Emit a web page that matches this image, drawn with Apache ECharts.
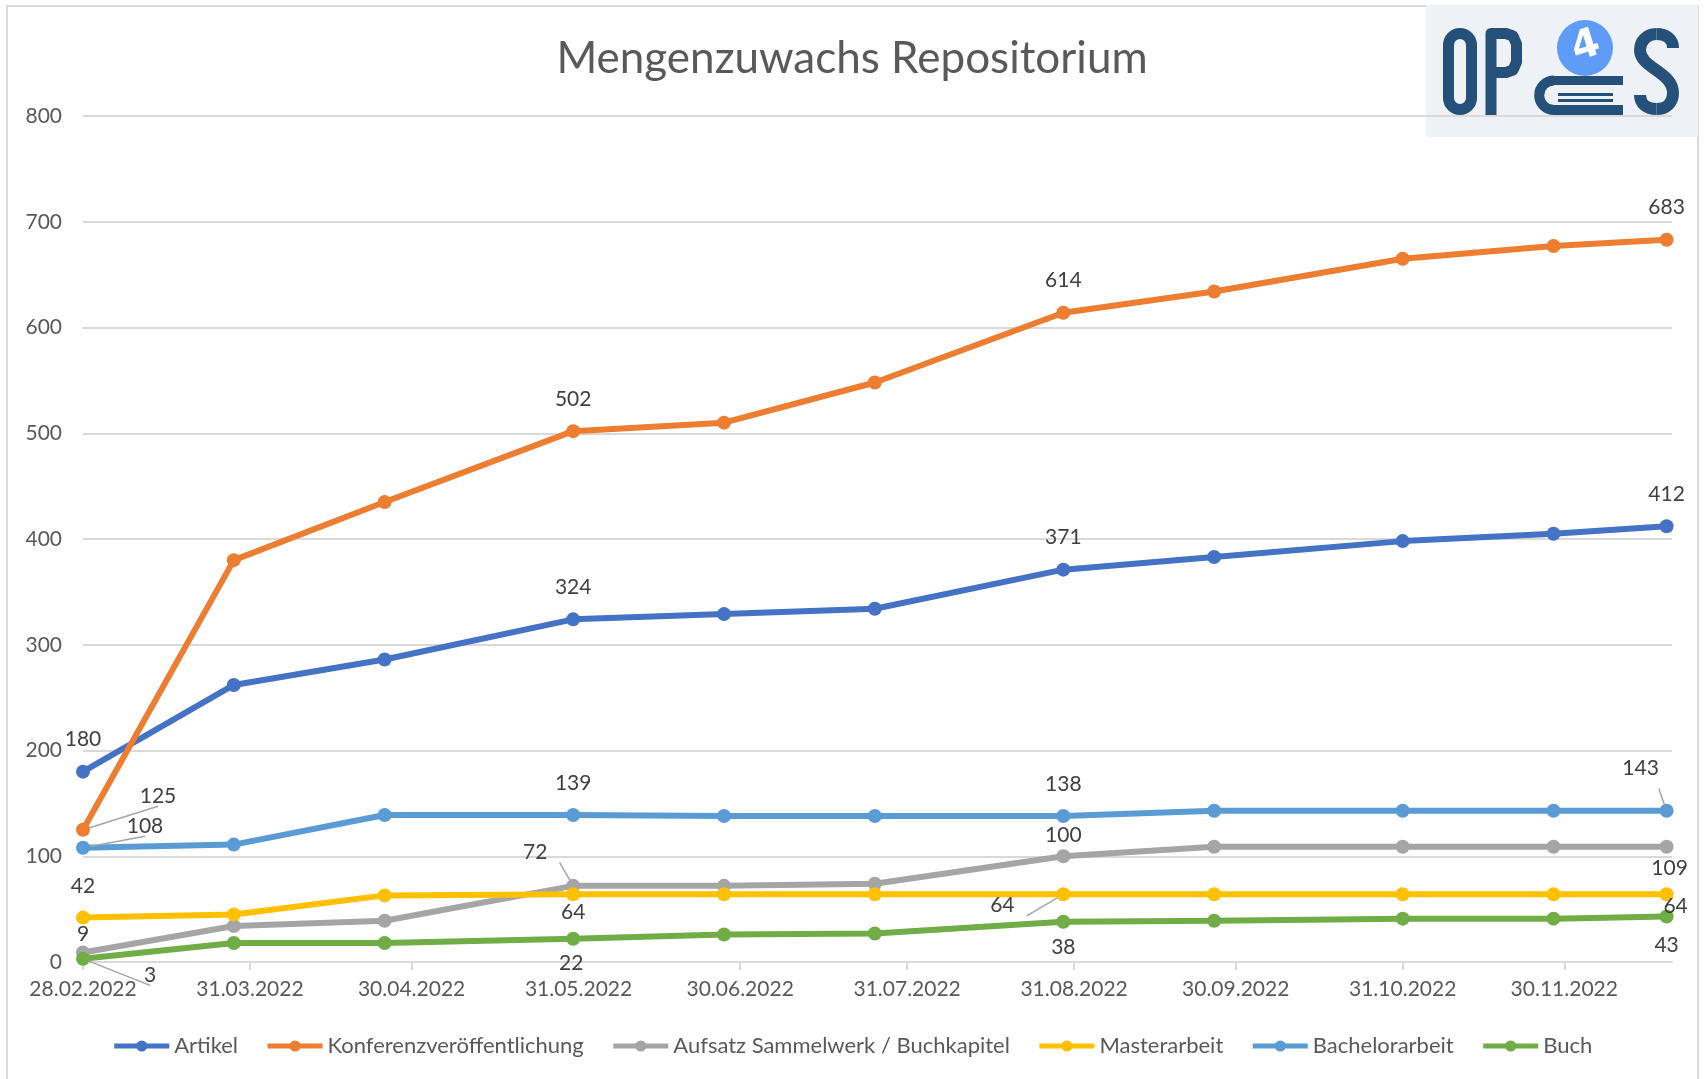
<!DOCTYPE html>
<html>
<head>
<meta charset="utf-8">
<script src="https://cdn.jsdelivr.net/npm/echarts@6/dist/echarts.min.js"></script>
<style>
  html, body { margin: 0; padding: 0; background: #fff; }
  #chart { width: 1704px; height: 1079px; }
</style>
</head>
<body>
<div id="chart"></div>
<script>
// Stichtage (last Monday of each month)
var dates = [
  "2022-02-28", "2022-03-28", "2022-04-25", "2022-05-30", "2022-06-27", "2022-07-25",
  "2022-08-29", "2022-09-26", "2022-10-31", "2022-11-28", "2022-12-19"
];

var seriesNames = [
  "Artikel", "Konferenzveröffentlichung", "Aufsatz Sammelwerk / Buchkapitel",
  "Masterarbeit", "Bachelorarbeit", "Buch"
];

var artikel = [180, 262, 286, 324, 329, 334, 371, 383, 398, 405, 412];
var konferenz = [125, 380, 435, 502, 510, 548, 614, 634, 665, 677, 683];
var aufsatz = [9, 34, 39, 72, 72, 74, 100, 109, 109, 109, 109];
var master = [42, 45, 63, 64, 64, 64, 64, 64, 64, 64, 64];
var bachelor = [108, 111, 139, 139, 138, 138, 138, 143, 143, 143, 143];
var buch = [3, 18, 18, 22, 26, 27, 38, 39, 41, 41, 43];

// month-end ticks on the x axis
var tickDates = [
  "2022-02-28", "2022-03-31", "2022-04-30", "2022-05-31", "2022-06-30",
  "2022-07-31", "2022-08-31", "2022-09-30", "2022-10-31", "2022-11-30"
];

var colors = ["#4472C4", "#ED7D31", "#A5A5A5", "#FFC000", "#5B9BD5", "#70AD47"];

// which points get a value label: [index, dx, dy, leader line]
var labelSpots = [
  [[0, 0, -32], [3, 0, -32], [6, 0, -32], [10, 0, -32]],
  [[0, 75, -34, true], [3, 0, -32], [6, 0, -32], [10, 0, -32]],
  [[0, 0, -18], [3, -38, -34, true], [6, 0, -21], [10, 3, 22]],
  [[0, 0, -31], [3, 0, 18], [6, -61, 11, true], [10, 9, 12]],
  [[0, 62, -22, true], [3, 0, -32], [6, 0, -32], [10, -26, -43, true]],
  [[0, 67, 16, true], [3, -2, 24], [6, 0, 25], [10, 0, 29]]
];

var DAY = 86400000;
var origin = Date.UTC(2022, 1, 28);

// days since 28.02.2022
function toDays(s) {
  var p = s.split("-");
  return Math.round((Date.UTC(+p[0], +p[1] - 1, +p[2]) - origin) / DAY);
}

function pad(n) { return n < 10 ? "0" + n : "" + n; }

function fmtDays(v) {
  var d = new Date(origin + Math.round(v) * DAY);
  return pad(d.getUTCDate()) + "." + pad(d.getUTCMonth() + 1) + "." + d.getUTCFullYear();
}

function buildSeries(idx, values) {
  var spots = {};
  labelSpots[idx].forEach(function (s) { spots[s[0]] = s; });
  var data = values.map(function (v, i) {
    var item = { value: [toDays(dates[i]), v] };
    var s = spots[i];
    if (s) {
      item.label = { show: true, position: "inside", offset: [s[1], s[2]] };
      if (s[3]) {
        item.labelLine = { show: true, lineStyle: { color: "#A5A5A5", width: 1.5 } };
      }
    }
    return item;
  });
  return {
    name: seriesNames[idx],
    type: "line",
    data: data,
    color: colors[idx],
    symbol: "circle",
    symbolSize: 14,
    lineStyle: { width: 6, color: colors[idx] },
    itemStyle: { color: colors[idx] },
    label: { show: false, color: "#404040", fontSize: 21, fontFamily: "Lato" },
    labelLine: { show: false },
    emphasis: { disabled: true },
    animation: false
  };
}

var chart = echarts.init(document.getElementById("chart"));

var logoBlue = "#25507A";
var tickDays = tickDates.map(toDays);
var bookLine = { fill: null, stroke: logoBlue, lineWidth: 9 };

function sCurve(x1, y1, cx1, cy1, cx2, cy2, x2, y2) {
  return {
    type: "bezierCurve",
    shape: { x1: x1, y1: y1, cpx1: cx1, cpy1: cy1, cpx2: cx2, cpy2: cy2, x2: x2, y2: y2 },
    style: { fill: null, stroke: logoBlue, lineWidth: 12 }
  };
}

chart.setOption({
  backgroundColor: "#ffffff",
  animation: false,
  color: colors,
  title: {
    text: "Mengenzuwachs Repositorium",
    left: "center",
    top: 32,
    textStyle: { fontFamily: "Lato", fontSize: 44, fontWeight: "normal", color: "#595959" }
  },
  grid: { left: 83, right: 32, top: 116, bottom: 117 },
  xAxis: {
    type: "value",
    min: 0,
    max: toDays("2022-12-20"),
    axisLine: { show: true, onZero: false, lineStyle: { color: "#D9D9D9", width: 2 } },
    axisTick: {
      show: true, length: 8, lineStyle: { color: "#D9D9D9", width: 2 },
      customValues: tickDays
    },
    axisLabel: {
      customValues: tickDays,
      formatter: fmtDays,
      color: "#595959",
      fontSize: 21,
      fontFamily: "Lato",
      margin: 17,
      hideOverlap: false
    },
    splitLine: { show: false }
  },
  yAxis: {
    type: "value",
    min: 0,
    max: 800,
    interval: 100,
    axisLine: { show: false },
    axisTick: { show: false },
    axisLabel: { color: "#595959", fontSize: 21, fontFamily: "Lato", margin: 21 },
    splitLine: { lineStyle: { color: "#D9D9D9", width: 2 } }
  },
  legend: {
    top: 1030,
    left: "center",
    itemWidth: 55,
    itemHeight: 14,
    itemGap: 27,
    lineStyle: { width: 5 },
    textStyle: { color: "#595959", fontSize: 22, fontFamily: "Lato" },
    data: seriesNames
  },
  series: [
    buildSeries(0, artikel),
    buildSeries(1, konferenz),
    buildSeries(2, aufsatz),
    buildSeries(3, master),
    buildSeries(4, bachelor),
    buildSeries(5, buch)
  ],
  graphic: [
    {
      type: "rect", z: -10, silent: true,
      shape: { x: 7, y: 6, width: 1691, height: 1100 },
      style: { fill: null, stroke: "#D9D9D9", lineWidth: 2 }
    },
    {
      type: "group", silent: true, z: 10,
      children: [
        { type: "rect", shape: { x: 1426, y: 5, width: 272, height: 132 }, style: { fill: "#EEF2F6" } },
        // O
        { type: "rect", shape: { x: 1448.5, y: 33.5, width: 23, height: 76, r: 11.5 },
          style: { fill: null, stroke: logoBlue, lineWidth: 11 } },
        // P
        { type: "polyline",
          shape: { points: [[1491, 115], [1491, 33.5], [1506, 33.5], [1513, 36], [1516.5, 44], [1516.5, 62], [1513, 70], [1506, 72.5], [1491, 72.5]] },
          style: { fill: null, stroke: logoBlue, lineWidth: 11, lineJoin: "round" } },
        // circle with 4
        { type: "circle", shape: { cx: 1585, cy: 48, r: 28 }, style: { fill: "#5E9CF7" } },
        { type: "text", x: 1586, y: 47, rotation: 0.3,
          style: { text: "4", fill: "#ffffff", font: "bold 40px 'DejaVu Sans'", align: "center", verticalAlign: "middle" } },
        // book
        { type: "line", shape: { x1: 1554, y1: 80.5, x2: 1623, y2: 80.5 }, style: bookLine },
        { type: "line", shape: { x1: 1554, y1: 110, x2: 1623, y2: 110 }, style: { stroke: logoBlue, lineWidth: 10 } },
        { type: "arc", shape: { cx: 1554, cy: 95.3, r: 14.8, startAngle: Math.PI / 2, endAngle: Math.PI * 1.5, clockwise: true },
          style: { fill: null, stroke: logoBlue, lineWidth: 10 } },
        { type: "line", shape: { x1: 1558, y1: 94.5, x2: 1613, y2: 94.5 }, style: { stroke: logoBlue, lineWidth: 3 } },
        { type: "line", shape: { x1: 1558, y1: 100.5, x2: 1613, y2: 100.5 }, style: { stroke: logoBlue, lineWidth: 3 } },
        // S
        sCurve(1673, 48, 1673, 39, 1666, 34, 1656.5, 34),
        sCurve(1656.5, 34, 1647, 34, 1640, 41, 1640, 50),
        sCurve(1640, 50, 1640, 68, 1673, 72, 1673, 93),
        sCurve(1673, 93, 1673, 103, 1666, 109, 1656.5, 109),
        sCurve(1656.5, 109, 1647, 109, 1640, 104, 1640, 95)
      ]
    }
  ]
});

window.addEventListener("resize", function () { chart.resize(); });
</script>
</body>
</html>
